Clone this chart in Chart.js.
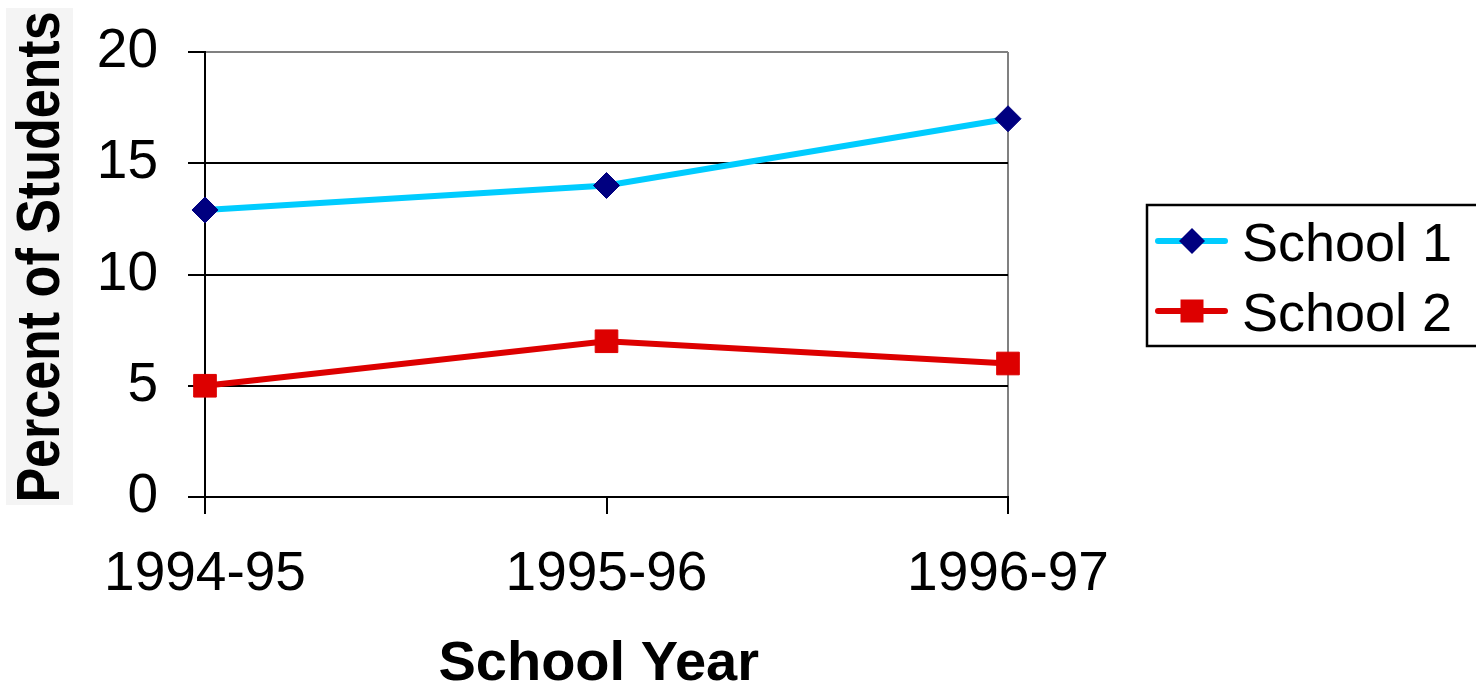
<!DOCTYPE html>
<html>
<head>
<meta charset="utf-8">
<style>
  html, body { margin: 0; padding: 0; background: #ffffff; }
  #c { display: block; }
</style>
<script src="https://cdn.jsdelivr.net/npm/chart.js@4/dist/chart.umd.min.js"></script>
</head>
<body>
<canvas id="c" width="1476" height="685"></canvas>
<script>
const categories = ['1994-95', '1995-96', '1996-97'];
const school1 = [12.9, 14, 17];
const school2 = [5, 7, 6];
const seriesNames = ['School 1', 'School 2'];
const yTitle = 'Percent of Students';
const xTitle = 'School Year';

const FONT = "'Liberation Sans', Arial, sans-serif";

const yTitlePlugin = {
  id: 'yTitleBox',
  beforeDraw(chart) {
    const ctx = chart.ctx;
    ctx.save();
    ctx.fillStyle = '#f4f4f4';
    ctx.fillRect(6, 8, 67, 497);
    ctx.restore();
  },
  afterDraw(chart) {
    const ctx = chart.ctx;
    ctx.save();
    ctx.translate(58.5, 257);
    ctx.rotate(-Math.PI / 2);
    ctx.scale(1, 1.17);
    ctx.font = 'bold 52px ' + FONT;
    ctx.fillStyle = '#000';
    ctx.textAlign = 'center';
    ctx.textBaseline = 'alphabetic';
    ctx.fillText(yTitle, 0, 0);
    ctx.restore();
  }
};

const legendPlugin = {
  id: 'customLegend',
  afterDraw(chart) {
    const ctx = chart.ctx;
    ctx.save();
    ctx.strokeStyle = '#000';
    ctx.lineWidth = 2.5;
    ctx.strokeRect(1147, 205, 340, 141);
    const rows = [241, 311];
    chart.data.datasets.forEach((ds, i) => {
      const y = rows[i];
      ctx.strokeStyle = ds.borderColor;
      ctx.lineWidth = 6;
      ctx.lineCap = 'round';
      ctx.beginPath();
      ctx.moveTo(1158, y);
      ctx.lineTo(1225, y);
      ctx.stroke();
      ctx.fillStyle = ds.pointBackgroundColor;
      ctx.beginPath();
      if (ds.pointStyle === 'rectRot') {
        const r = 13;
        ctx.moveTo(1192 - r, y);
        ctx.lineTo(1192, y - r);
        ctx.lineTo(1192 + r, y);
        ctx.lineTo(1192, y + r);
        ctx.closePath();
      } else {
        ctx.rect(1192 - 11.5, y - 11.5, 23, 23);
      }
      ctx.fill();
      ctx.fillStyle = '#000';
      ctx.font = '54px ' + FONT;
      ctx.textAlign = 'left';
      ctx.textBaseline = 'alphabetic';
      ctx.fillText(ds.label, 1242, y + 20);
    });
    ctx.restore();
  }
};

new Chart(document.getElementById('c'), {
  type: 'line',
  data: {
    labels: categories,
    datasets: [
      {
        label: seriesNames[0],
        data: school1,
        borderColor: '#00ccff',
        borderWidth: 6,
        backgroundColor: '#000080',
        pointStyle: 'rectRot',
        pointRadius: 13,
        pointBorderWidth: 1,
        pointBackgroundColor: '#000080',
        pointBorderColor: '#000080',
        tension: 0,
        fill: false
      },
      {
        label: seriesNames[1],
        data: school2,
        borderColor: '#dd0000',
        borderWidth: 6,
        backgroundColor: '#dd0000',
        pointStyle: 'rect',
        pointRadius: 16,
        pointBorderWidth: 1,
        pointBackgroundColor: '#dd0000',
        pointBorderColor: '#dd0000',
        tension: 0,
        fill: false
      }
    ]
  },
  options: {
    responsive: false,
    animation: false,
    devicePixelRatio: 1,
    layout: { padding: { top: 52, right: 468, bottom: 0, left: 0 } },
    plugins: {
      legend: { display: false },
      tooltip: { enabled: false },
      title: { display: false }
    },
    scales: {
      x: {
        type: 'category',
        offset: false,
        afterFit(scale) {
          scale.height = 188;
          scale.paddingLeft = 0;
          scale.paddingRight = 0;
        },
        grid: {
          drawOnChartArea: true,
          color: (c) => (c.index === categories.length - 1 ? '#808080' : 'rgba(0,0,0,0)'),
          tickColor: '#000',
          lineWidth: 2,
          tickLength: 17
        },
        border: { display: true, color: '#000', width: 2 },
        ticks: {
          color: '#000',
          font: { family: FONT, size: 55 },
          padding: 28,
          maxRotation: 0,
          autoSkip: false
        },
        title: {
          display: true,
          text: xTitle + ' ',
          color: '#000',
          font: { family: FONT, size: 56, weight: 'bold', lineHeight: 0.72 },
          padding: { top: 0, bottom: 0 }
        }
      },
      y: {
        min: 0,
        max: 20,
        afterFit(scale) {
          scale.width = 205;
          scale.paddingTop = 0;
          scale.paddingBottom = 0;
        },
        grid: {
          color: (c) => (c.tick && c.tick.value === 20 ? '#808080' : '#000'),
          tickColor: '#000',
          lineWidth: 2,
          tickLength: 17
        },
        border: { display: true, color: '#000', width: 2 },
        ticks: {
          stepSize: 5,
          color: '#000',
          font: { family: FONT, size: 55 },
          padding: 30
        },
        title: { display: false }
      }
    }
  },
  plugins: [yTitlePlugin, legendPlugin]
});
</script>
</body>
</html>
